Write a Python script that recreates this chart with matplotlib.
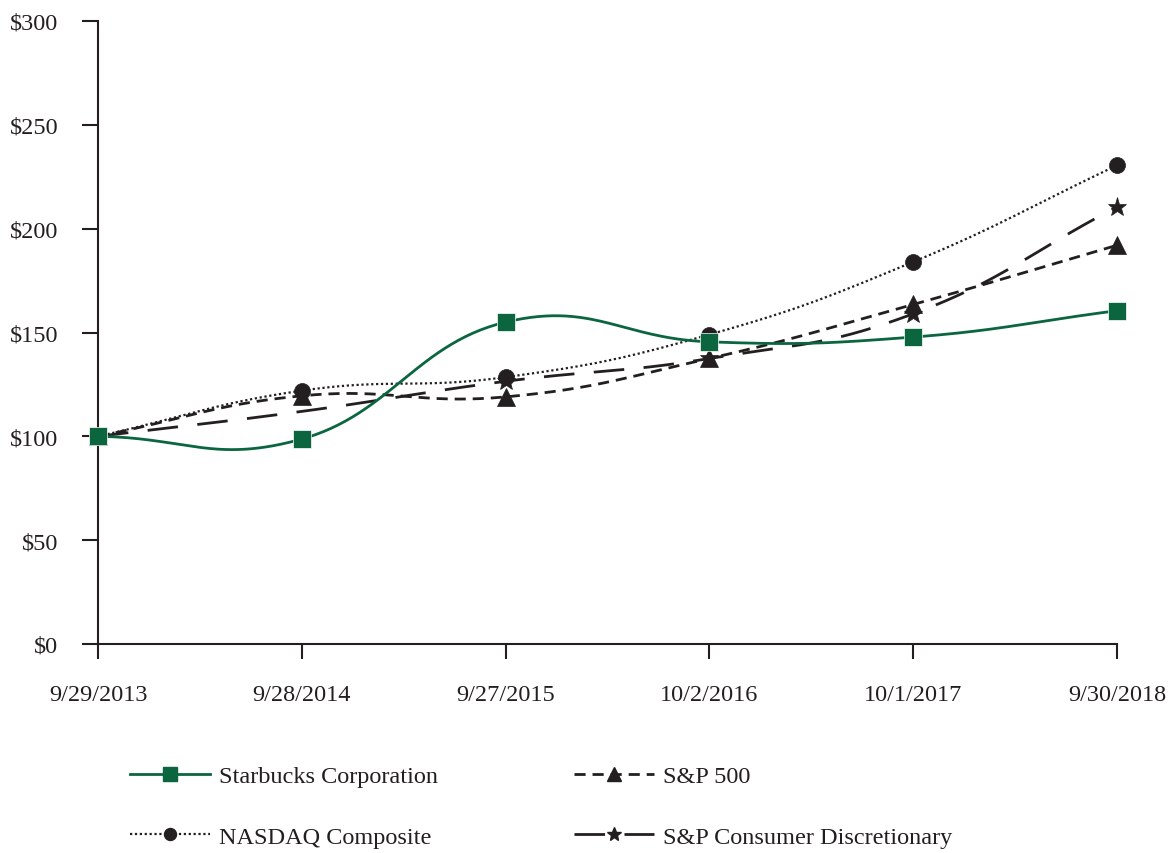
import numpy as np
import matplotlib
matplotlib.use('Agg')
import matplotlib.pyplot as plt
from matplotlib.lines import Line2D

plt.rcParams['font.family'] = ['Liberation Serif', 'DejaVu Serif']

dates = ['9/29/2013', '9/28/2014', '9/27/2015', '10/2/2016', '10/1/2017', '9/30/2018']
starbucks = [100, 98.7, 155, 145.5, 147.8, 160.5]
sp500 = [100, 119.5, 119, 137.5, 163.5, 192]
nasdaq = [100, 122, 128.5, 149, 184, 230.5]
cons_disc = [100, 112, 126.5, 137.5, 159, 210.5]

GREEN = '#0b6640'
DARK = '#231f20'
FS = 17.5


def smooth(xs, ys, n=60, k=1.3):
    # catmull-rom style smoothing, like the spreadsheet "smoothed line"
    pts = np.column_stack([xs, ys]).astype(float)
    p = np.vstack([pts[0] - (pts[1] - pts[0]), pts, pts[-1] + (pts[-1] - pts[-2])])
    out = []
    for i in range(1, len(p) - 2):
        p0, p1, p2, p3 = p[i - 1], p[i], p[i + 1], p[i + 2]
        m1 = k * (p2 - p0) / 2
        m2 = k * (p3 - p1) / 2
        t = np.linspace(0, 1, n)[:, None]
        h00 = 2 * t**3 - 3 * t**2 + 1
        h10 = t**3 - 2 * t**2 + t
        h01 = -2 * t**3 + 3 * t**2
        h11 = t**3 - t**2
        seg = h00 * p1 + h10 * m1 + h01 * p2 + h11 * m2
        out.append(seg if i == 1 else seg[1:])
    out = np.vstack(out)
    return out[:, 0], out[:, 1]


fig = plt.figure(figsize=(11.68, 8.54), dpi=100)
ax = fig.add_axes([98 / 1168, 1 - 645 / 854, (1117 - 98) / 1168, (645 - 22) / 854])

x = np.arange(len(dates))

series = [
    ('NASDAQ Composite', nasdaq, dict(color=DARK, ls=(0, (1, 1.2)), lw=1.6),
     dict(marker='o', ms=11.5, markevery=None)),
    ('S&P 500', sp500, dict(color=DARK, ls=(0, (4, 2.5)), lw=2),
     dict(marker='^', ms=13, markevery=None)),
    ('S&P Consumer Discretionary', cons_disc, dict(color=DARK, ls=(0, (11, 7)), lw=2),
     dict(marker='*', ms=14, markevery=[0, 2, 3, 4, 5])),
    ('Starbucks Corporation', starbucks, dict(color=GREEN, ls='-', lw=2),
     dict(marker='s', ms=13.5, markevery=None)),
]

handles = {}
for name, vals, lstyle, mstyle in series:
    sx, sy = smooth(x, vals)
    ax.plot(sx, sy, clip_on=False, **lstyle)
    ax.plot(x, vals, ls='none', color=lstyle['color'], mec='white' if lstyle['color'] == GREEN else DARK,
            mew=0.5, clip_on=False, zorder=3, **mstyle)
    handles[name] = Line2D([], [], color=lstyle['color'], ls=lstyle['ls'], lw=lstyle['lw'],
                           marker=mstyle['marker'], ms=mstyle['ms'] * 0.75)

ax.set_xlim(0, 5)
ax.set_ylim(0, 300)
ax.set_yticks(np.arange(0, 301, 50))
ax.set_yticklabels([f'${v}' for v in range(0, 301, 50)])
ax.set_xticks(x)
ax.set_xticklabels(dates)
for s in ['top', 'right']:
    ax.spines[s].set_visible(False)
for s in ['left', 'bottom']:
    ax.spines[s].set_linewidth(1.5)
    ax.spines[s].set_color(DARK)
ax.tick_params(axis='both', direction='out', width=1.5, color=DARK,
               labelsize=FS, labelcolor=DARK)
ax.tick_params(axis='x', length=11, pad=18)
ax.tick_params(axis='y', length=11.5, pad=17)

order = ['Starbucks Corporation', 'NASDAQ Composite', 'S&P 500', 'S&P Consumer Discretionary']
fig.legend([handles[k] for k in order], order, ncol=2, frameon=False, fontsize=FS,
           loc='upper left', bbox_to_anchor=(130 / 1168, 1 - 766 / 854),
           borderpad=0, borderaxespad=0,
           handlelength=3.3, handletextpad=0.35, columnspacing=5.6, labelspacing=1.6,
           labelcolor=DARK)

fig.savefig('out.png', dpi=100)
